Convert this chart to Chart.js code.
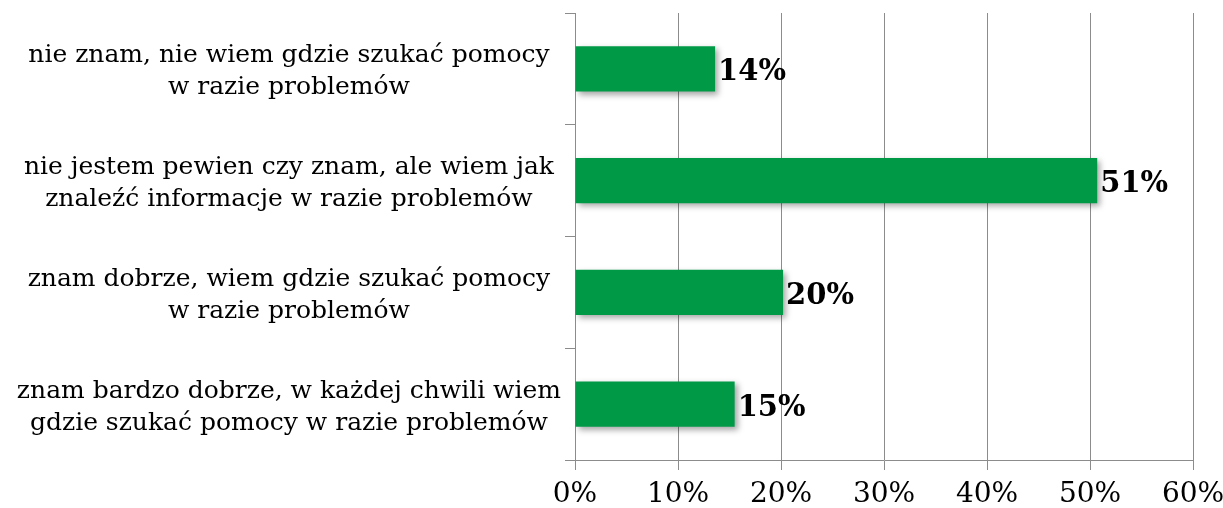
<!DOCTYPE html>
<html>
<head>
<meta charset="utf-8">
<script src="https://cdn.jsdelivr.net/npm/chart.js@4/dist/chart.umd.min.js"></script>
<style>
  html, body { margin: 0; padding: 0; background: #fff; }
  #wrap { width: 1223px; height: 508px; }
</style>
</head>
<body>
<div id="wrap"><canvas id="myChart"></canvas></div>
<script>
const categories = [
  ["nie znam, nie wiem gdzie szukać pomocy", "w razie problemów"],
  ["nie jestem pewien czy znam, ale wiem jak", "znaleźć informacje w razie problemów"],
  ["znam dobrze, wiem gdzie szukać pomocy", "w razie problemów"],
  ["znam bardzo dobrze, w każdej chwili wiem", "gdzie szukać pomocy w razie problemów"]
];
const values = [13.6, 50.7, 20.2, 15.5];
const valueLabels = ["14%", "51%", "20%", "15%"];
const xTicks = [0, 10, 20, 30, 40, 50, 60];

const gridColor = "#8c8c8c";
const serif = "'DejaVu Serif', serif";

// cień pod słupkami
const shadowPlugin = {
  id: "barShadow",
  beforeDatasetsDraw(chart) {
    const ctx = chart.ctx;
    ctx.save();
    ctx.shadowColor = "rgba(0,0,0,0.35)";
    ctx.shadowBlur = 6;
    ctx.shadowOffsetX = 3;
    ctx.shadowOffsetY = 3;
  },
  afterDatasetsDraw(chart) {
    chart.ctx.restore();
  }
};

// etykiety wartości przy słupkach
const valueLabelPlugin = {
  id: "valueLabels",
  afterDraw(chart) {
    const ctx = chart.ctx;
    const meta = chart.getDatasetMeta(0);
    ctx.save();
    ctx.font = "bold 29px " + serif;
    ctx.fillStyle = "#000";
    ctx.textAlign = "left";
    ctx.textBaseline = "middle";
    meta.data.forEach((bar, i) => {
      ctx.fillText(valueLabels[i], bar.x + 3, bar.y + 4);
    });
    ctx.restore();
  }
};

const ctx = document.getElementById("myChart").getContext("2d");
const myChart = new Chart(ctx, {
  type: "bar",
  data: {
    labels: categories,
    datasets: [{
      data: values,
      backgroundColor: "#009a47",
      borderWidth: 0,
      barPercentage: 0.405,
      categoryPercentage: 1
    }]
  },
  plugins: [shadowPlugin, valueLabelPlugin],
  options: {
    indexAxis: "y",
    responsive: true,
    maintainAspectRatio: false,
    animation: false,
    layout: { padding: { top: 13, right: 30, left: 0, bottom: 0 } },
    plugins: {
      legend: { display: false },
      tooltip: { enabled: false }
    },
    scales: {
      x: {
        min: 0,
        max: 60,
        afterBuildTicks: (scale) => {
          scale.ticks = xTicks.map(v => ({ value: v }));
        },
        afterFit: (scale) => {
          scale.height = 48;
          scale.paddingLeft = 0;
          scale.paddingRight = 0;
        },
        grid: {
          color: gridColor,
          lineWidth: 1,
          tickLength: 10,
          drawTicks: true
        },
        border: { display: true, color: gridColor },
        ticks: {
          padding: 8,
          color: "#000",
          font: { family: serif, size: 28 },
          callback: (v) => v + "%"
        }
      },
      y: {
        afterFit: (scale) => {
          scale.width = 575;
          scale.paddingTop = 0;
          scale.paddingBottom = 0;
        },
        grid: {
          offset: true,
          drawOnChartArea: false,
          color: gridColor,
          tickLength: 10
        },
        border: { display: true, color: gridColor },
        ticks: {
          crossAlign: "center",
          padding: 4,
          labelOffset: 3,
          color: "#000",
          font: { family: serif, size: 25, lineHeight: 1.28 }
        }
      }
    }
  }
});
</script>
</body>
</html>
